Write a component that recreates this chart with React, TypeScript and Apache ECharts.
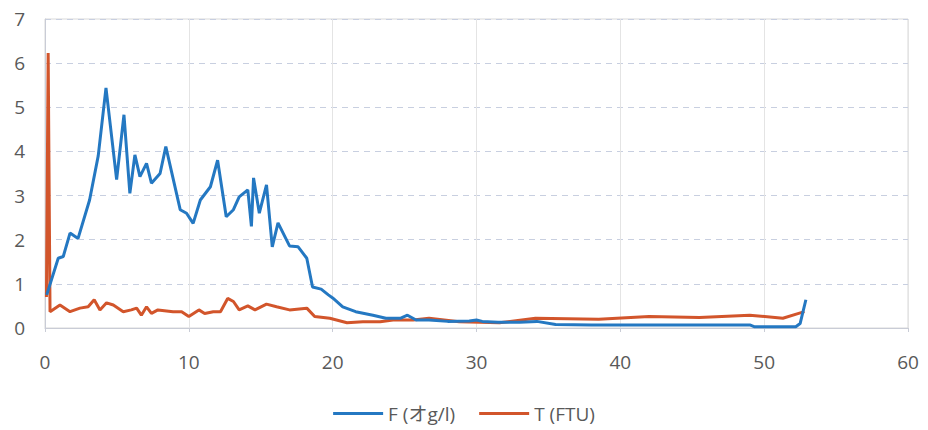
import React, { useEffect, useRef } from "react";
import * as echarts from "echarts";

const fX = [0.12, 0.92, 1.27, 1.74, 2.3, 3.1, 3.7, 4.24, 4.98, 5.49, 5.9, 6.25, 6.6, 7.06, 7.4, 8.0, 8.4, 9.4, 9.84, 10.3, 10.8, 11.5, 12.0, 12.6, 13.1, 13.5, 14.1, 14.35, 14.5, 14.9, 15.4, 15.8, 16.2, 17.0, 17.6, 18.2, 18.6, 19.2, 19.7, 20.0, 20.7, 21.6, 22.8, 23.7, 24.7, 25.2, 25.8, 26.7, 28.0, 29.5, 30.0, 30.4, 31.5, 33.0, 34.2, 35.5, 38.0, 42.0, 46.0, 49.0, 49.3, 52.2, 52.5, 52.9];
const fY = [0.75, 1.58, 1.62, 2.15, 2.03, 2.9, 3.9, 5.44, 3.36, 4.83, 3.05, 3.92, 3.43, 3.73, 3.28, 3.5, 4.11, 2.68, 2.6, 2.37, 2.9, 3.2, 3.8, 2.52, 2.68, 2.97, 3.13, 2.3, 3.4, 2.6, 3.24, 1.84, 2.38, 1.86, 1.84, 1.58, 0.93, 0.88, 0.75, 0.68, 0.48, 0.37, 0.29, 0.22, 0.22, 0.29, 0.18, 0.18, 0.15, 0.16, 0.18, 0.15, 0.13, 0.13, 0.15, 0.08, 0.07, 0.07, 0.07, 0.07, 0.03, 0.03, 0.1, 0.64];

const tX = [0.1, 0.22, 0.35, 1.04, 1.74, 2.43, 3.0, 3.42, 3.82, 4.28, 4.75, 5.44, 6.0, 6.37, 6.7, 7.06, 7.4, 7.85, 8.9, 9.5, 10.0, 10.7, 11.1, 11.7, 12.2, 12.7, 13.1, 13.5, 14.1, 14.6, 15.4, 16.1, 17.0, 18.2, 18.75, 19.8, 21.0, 22.1, 23.3, 24.2, 25.6, 26.7, 28.8, 31.6, 34.1, 38.5, 42.0, 45.5, 49.0, 51.3, 52.4, 52.8];
const tY = [0.7, 6.23, 0.37, 0.52, 0.37, 0.45, 0.48, 0.64, 0.41, 0.57, 0.52, 0.37, 0.41, 0.45, 0.29, 0.48, 0.33, 0.41, 0.37, 0.37, 0.26, 0.41, 0.33, 0.37, 0.37, 0.67, 0.6, 0.41, 0.5, 0.41, 0.54, 0.48, 0.41, 0.45, 0.26, 0.22, 0.12, 0.14, 0.14, 0.18, 0.18, 0.22, 0.14, 0.12, 0.22, 0.2, 0.26, 0.24, 0.29, 0.22, 0.33, 0.37];

const seriesNames = ["F (オg/l)", "T (FTU)"];
const seriesColors = ["#2478c2", "#d2552b"];

export default function App() {
  const ref = useRef<HTMLDivElement>(null);
  useEffect(() => {
    if (!ref.current) return;
    const chart = echarts.init(ref.current, undefined, { renderer: "svg" });
    const font = "'Liberation Sans Narrow', 'Open Sans', 'Noto Sans', 'Noto Sans CJK JP', sans-serif";
    chart.setOption({
      animation: false,
      grid: {
        left: 45,
        right: 20,
        top: 19,
        bottom: 102,
        show: true,
        borderColor: "#d9d9d9",
        borderWidth: 1,
      },
      legend: {
        top: 399,
        left: "center",
        itemWidth: 50,
        itemHeight: 3,
        itemGap: 24,
        icon: "rect",
        textStyle: { color: "#595959", fontSize: 19, fontFamily: font },
        data: seriesNames,
      },
      xAxis: {
        type: "value",
        min: 0,
        max: 60,
        interval: 10,
        axisLine: { show: true, lineStyle: { color: "#c9ccd6" } },
        axisTick: { show: true, length: 4, lineStyle: { color: "#c9ccd6" } },
        axisLabel: { color: "#595959", fontSize: 19, margin: 24, fontFamily: font },
        splitLine: { show: true, lineStyle: { color: "#e4e4e4", width: 1 } },
      },
      yAxis: {
        type: "value",
        min: 0,
        max: 7,
        interval: 1,
        axisLine: { show: true, lineStyle: { color: "#c9ccd6" } },
        axisTick: { show: false },
        axisLabel: { color: "#595959", fontSize: 19, margin: 20, fontFamily: font },
        splitLine: { show: true, lineStyle: { color: "#c8cfe0", type: [6, 5], width: 1 } },
      },
      series: [
        {
          name: seriesNames[0],
          type: "line",
          data: fX.map((x, i) => [x, fY[i]]),
          showSymbol: false,
          symbol: "none",
          lineStyle: { color: seriesColors[0], width: 3 },
          itemStyle: { color: seriesColors[0] },
          z: 3,
        },
        {
          name: seriesNames[1],
          type: "line",
          data: tX.map((x, i) => [x, tY[i]]),
          showSymbol: false,
          symbol: "none",
          lineStyle: { color: seriesColors[1], width: 3 },
          itemStyle: { color: seriesColors[1] },
          z: 2,
        },
      ],
    });
    return () => chart.dispose();
  }, []);
  return <div ref={ref} style={{ width: 928, height: 430, position: "absolute", left: 0, top: 0 }} />;
}
